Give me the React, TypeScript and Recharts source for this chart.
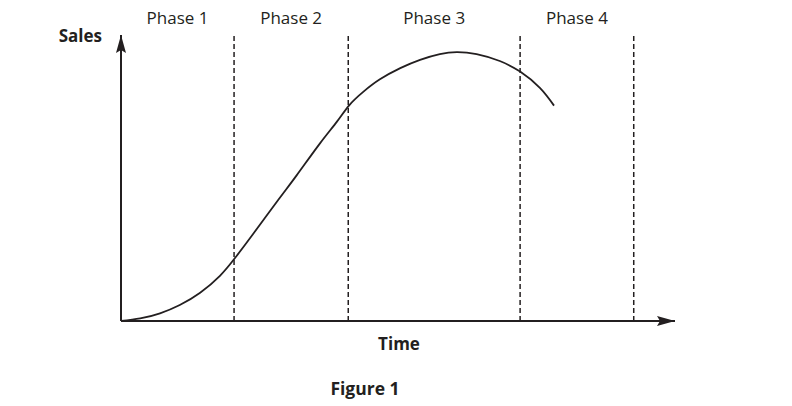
import { Label, Line, LineChart, ReferenceArea, ReferenceLine, XAxis, YAxis } from "recharts";

// time units on x (0..98), sales index on y (0..100)
const time = [0, 3.4, 6.9, 10.4, 14.0, 17.5, 20.2, 23.4, 27.8, 31.1, 35.2, 38.2, 40.4, 42.9, 45.8, 49.4, 52.9, 56.4, 59.4, 62.9, 67.0, 70.6, 74.1, 76.6];
const sales = [0, 0.9, 2.7, 5.6, 9.9, 15.8, 22.1, 30.5, 42.3, 51.0, 62.1, 69.7, 75.5, 80.2, 84.5, 88.4, 91.3, 93.3, 94.0, 93.3, 90.9, 87.2, 81.5, 75.3];

const phaseLabels = ["Phase 1", "Phase 2", "Phase 3", "Phase 4"];
const phaseEdges = [0, 20, 40.2, 70.6, 90.7];

const data = time.map((t, i) => ({ t, sales: sales[i] }));

const INK = "#231f20";
const FONT = "'Open Sans', sans-serif";

export default function App() {
  return (
    <div style={{ position: "absolute", left: 0, top: 0 }}>
      <LineChart
        width={792}
        height={406}
        data={data}
        margin={{ top: 35, right: 117, left: 101, bottom: 55 }}
        style={{ fontFamily: FONT }}
      >
        <defs>
          <marker
            id="arrowHead"
            viewBox="0 0 18 10"
            refX={18}
            refY={5}
            markerWidth={18}
            markerHeight={10}
            markerUnits="userSpaceOnUse"
            orient="auto-start-reverse"
          >
            <path d="M0,0 L18,5 L0,10 L3,5 z" fill={INK} />
          </marker>
        </defs>
        <XAxis
          dataKey="t"
          type="number"
          domain={[0, 98]}
          height={30}
          tick={false}
          tickLine={false}
          axisLine={{ stroke: INK, strokeWidth: 2, markerEnd: "url(#arrowHead)" }}
        >
          <Label
            content={({ viewBox }: any) => (
              <g>
                <text
                  x={viewBox.x + viewBox.width / 2 + 1}
                  y={viewBox.y + 29}
                  textAnchor="middle"
                  fontSize={17}
                  fontWeight={700}
                  fill={INK}
                  fontFamily={FONT}
                >
                  Time
                </text>
                <text
                  x={viewBox.x + viewBox.width / 2 - 33}
                  y={viewBox.y + 74}
                  textAnchor="middle"
                  fontSize={17.5}
                  fontWeight={700}
                  fill={INK}
                  fontFamily={FONT}
                >
                  Figure 1
                </text>
              </g>
            )}
          />
        </XAxis>
        <YAxis
          type="number"
          domain={[0, 100]}
          width={20}
          tick={false}
          tickLine={false}
          axisLine={{ stroke: INK, strokeWidth: 2, markerStart: "url(#arrowHead)" }}
        >
          <Label
            content={({ viewBox }: any) => (
              <text
                x={viewBox.x + viewBox.width - 19}
                y={viewBox.y + 7}
                textAnchor="end"
                fontSize={17}
                fontWeight={700}
                fill={INK}
                fontFamily={FONT}
              >
                Sales
              </text>
            )}
          />
        </YAxis>
        {phaseLabels.map((p, i) => (
          <ReferenceArea
            key={p}
            x1={phaseEdges[i]}
            x2={phaseEdges[i + 1]}
            fill="none"
            stroke="none"
            label={{ value: p, position: "top", offset: 11, fontSize: 17, fill: INK, fontFamily: FONT }}
          />
        ))}
        {phaseEdges.slice(1).map((x) => (
          <ReferenceLine key={x} x={x} stroke={INK} strokeWidth={1.5} strokeDasharray="5 3" />
        ))}
        <Line
          type="natural"
          dataKey="sales"
          stroke={INK}
          strokeWidth={1.8}
          dot={false}
          isAnimationActive={false}
        />
      </LineChart>
    </div>
  );
}
